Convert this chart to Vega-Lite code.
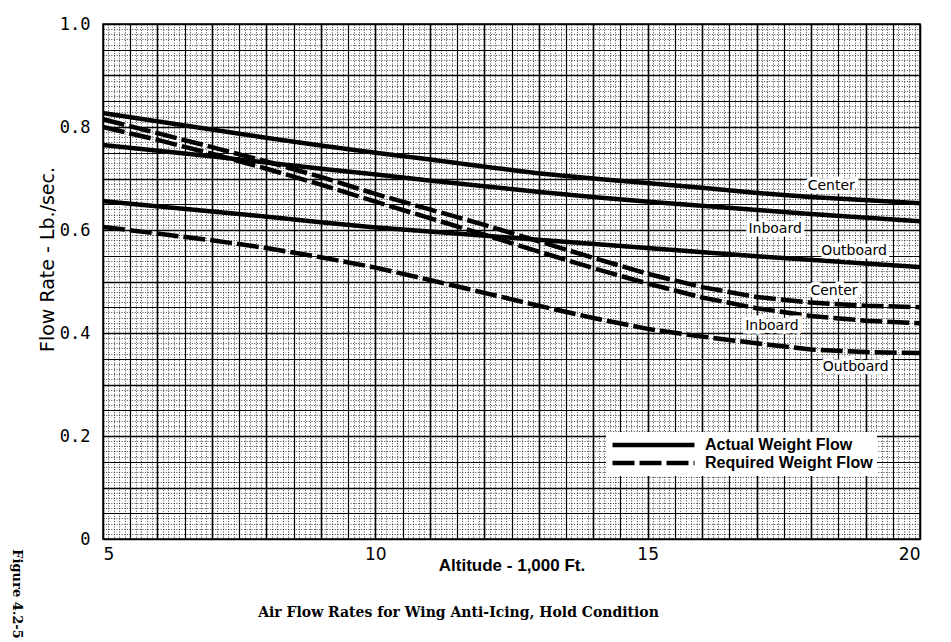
{
  "$schema": "https://vega.github.io/schema/vega-lite/v6.json",
  "background": "white",
  "padding": {"left": 10, "top": 14, "right": 5, "bottom": 5},
  "config": {
    "view": {"stroke": "black", "strokeWidth": 1.5},
    "title": {"color": "black"}
  },
  "title": {
    "text": "Figure 4.2-5",
    "orient": "left",
    "anchor": "start",
    "angle": 90,
    "align": "right",
    "dx": 18,
    "font": "DejaVu Serif",
    "fontWeight": "bold",
    "fontSize": 13,
    "color": "black",
    "offset": 1
  },
  "resolve": {"scale": {"strokeDash": "independent"}, "legend": {"strokeDash": "independent"}},
  "datasets": {
    "lines": [
      {"series": "Actual Weight Flow", "loc": "Center", "alt": 5, "flow": 0.827},
      {"series": "Actual Weight Flow", "loc": "Center", "alt": 6, "flow": 0.811},
      {"series": "Actual Weight Flow", "loc": "Center", "alt": 7, "flow": 0.795},
      {"series": "Actual Weight Flow", "loc": "Center", "alt": 8, "flow": 0.779},
      {"series": "Actual Weight Flow", "loc": "Center", "alt": 9, "flow": 0.764},
      {"series": "Actual Weight Flow", "loc": "Center", "alt": 10, "flow": 0.750},
      {"series": "Actual Weight Flow", "loc": "Center", "alt": 11, "flow": 0.737},
      {"series": "Actual Weight Flow", "loc": "Center", "alt": 12, "flow": 0.723},
      {"series": "Actual Weight Flow", "loc": "Center", "alt": 13, "flow": 0.710},
      {"series": "Actual Weight Flow", "loc": "Center", "alt": 14, "flow": 0.700},
      {"series": "Actual Weight Flow", "loc": "Center", "alt": 15, "flow": 0.691},
      {"series": "Actual Weight Flow", "loc": "Center", "alt": 16, "flow": 0.682},
      {"series": "Actual Weight Flow", "loc": "Center", "alt": 17, "flow": 0.672},
      {"series": "Actual Weight Flow", "loc": "Center", "alt": 18, "flow": 0.664},
      {"series": "Actual Weight Flow", "loc": "Center", "alt": 19, "flow": 0.658},
      {"series": "Actual Weight Flow", "loc": "Center", "alt": 20, "flow": 0.652},
      {"series": "Actual Weight Flow", "loc": "Inboard", "alt": 5, "flow": 0.765},
      {"series": "Actual Weight Flow", "loc": "Inboard", "alt": 6, "flow": 0.754},
      {"series": "Actual Weight Flow", "loc": "Inboard", "alt": 7, "flow": 0.743},
      {"series": "Actual Weight Flow", "loc": "Inboard", "alt": 8, "flow": 0.731},
      {"series": "Actual Weight Flow", "loc": "Inboard", "alt": 9, "flow": 0.719},
      {"series": "Actual Weight Flow", "loc": "Inboard", "alt": 10, "flow": 0.708},
      {"series": "Actual Weight Flow", "loc": "Inboard", "alt": 11, "flow": 0.696},
      {"series": "Actual Weight Flow", "loc": "Inboard", "alt": 12, "flow": 0.685},
      {"series": "Actual Weight Flow", "loc": "Inboard", "alt": 13, "flow": 0.674},
      {"series": "Actual Weight Flow", "loc": "Inboard", "alt": 14, "flow": 0.664},
      {"series": "Actual Weight Flow", "loc": "Inboard", "alt": 15, "flow": 0.655},
      {"series": "Actual Weight Flow", "loc": "Inboard", "alt": 16, "flow": 0.647},
      {"series": "Actual Weight Flow", "loc": "Inboard", "alt": 17, "flow": 0.639},
      {"series": "Actual Weight Flow", "loc": "Inboard", "alt": 18, "flow": 0.631},
      {"series": "Actual Weight Flow", "loc": "Inboard", "alt": 19, "flow": 0.624},
      {"series": "Actual Weight Flow", "loc": "Inboard", "alt": 20, "flow": 0.617},
      {"series": "Actual Weight Flow", "loc": "Outboard", "alt": 5, "flow": 0.656},
      {"series": "Actual Weight Flow", "loc": "Outboard", "alt": 6, "flow": 0.646},
      {"series": "Actual Weight Flow", "loc": "Outboard", "alt": 7, "flow": 0.636},
      {"series": "Actual Weight Flow", "loc": "Outboard", "alt": 8, "flow": 0.626},
      {"series": "Actual Weight Flow", "loc": "Outboard", "alt": 9, "flow": 0.615},
      {"series": "Actual Weight Flow", "loc": "Outboard", "alt": 10, "flow": 0.605},
      {"series": "Actual Weight Flow", "loc": "Outboard", "alt": 11, "flow": 0.597},
      {"series": "Actual Weight Flow", "loc": "Outboard", "alt": 12, "flow": 0.589},
      {"series": "Actual Weight Flow", "loc": "Outboard", "alt": 13, "flow": 0.581},
      {"series": "Actual Weight Flow", "loc": "Outboard", "alt": 14, "flow": 0.573},
      {"series": "Actual Weight Flow", "loc": "Outboard", "alt": 15, "flow": 0.565},
      {"series": "Actual Weight Flow", "loc": "Outboard", "alt": 16, "flow": 0.557},
      {"series": "Actual Weight Flow", "loc": "Outboard", "alt": 17, "flow": 0.549},
      {"series": "Actual Weight Flow", "loc": "Outboard", "alt": 18, "flow": 0.542},
      {"series": "Actual Weight Flow", "loc": "Outboard", "alt": 19, "flow": 0.535},
      {"series": "Actual Weight Flow", "loc": "Outboard", "alt": 20, "flow": 0.528},
      {"series": "Required Weight Flow", "loc": "Center", "alt": 5, "flow": 0.815},
      {"series": "Required Weight Flow", "loc": "Center", "alt": 6, "flow": 0.788},
      {"series": "Required Weight Flow", "loc": "Center", "alt": 7, "flow": 0.761},
      {"series": "Required Weight Flow", "loc": "Center", "alt": 8, "flow": 0.733},
      {"series": "Required Weight Flow", "loc": "Center", "alt": 9, "flow": 0.703},
      {"series": "Required Weight Flow", "loc": "Center", "alt": 10, "flow": 0.670},
      {"series": "Required Weight Flow", "loc": "Center", "alt": 11, "flow": 0.640},
      {"series": "Required Weight Flow", "loc": "Center", "alt": 12, "flow": 0.610},
      {"series": "Required Weight Flow", "loc": "Center", "alt": 13, "flow": 0.578},
      {"series": "Required Weight Flow", "loc": "Center", "alt": 14, "flow": 0.546},
      {"series": "Required Weight Flow", "loc": "Center", "alt": 15, "flow": 0.515},
      {"series": "Required Weight Flow", "loc": "Center", "alt": 16, "flow": 0.489},
      {"series": "Required Weight Flow", "loc": "Center", "alt": 17, "flow": 0.470},
      {"series": "Required Weight Flow", "loc": "Center", "alt": 18, "flow": 0.459},
      {"series": "Required Weight Flow", "loc": "Center", "alt": 19, "flow": 0.453},
      {"series": "Required Weight Flow", "loc": "Center", "alt": 20, "flow": 0.450},
      {"series": "Required Weight Flow", "loc": "Inboard", "alt": 5, "flow": 0.800},
      {"series": "Required Weight Flow", "loc": "Inboard", "alt": 6, "flow": 0.775},
      {"series": "Required Weight Flow", "loc": "Inboard", "alt": 7, "flow": 0.748},
      {"series": "Required Weight Flow", "loc": "Inboard", "alt": 8, "flow": 0.719},
      {"series": "Required Weight Flow", "loc": "Inboard", "alt": 9, "flow": 0.688},
      {"series": "Required Weight Flow", "loc": "Inboard", "alt": 10, "flow": 0.655},
      {"series": "Required Weight Flow", "loc": "Inboard", "alt": 11, "flow": 0.623},
      {"series": "Required Weight Flow", "loc": "Inboard", "alt": 12, "flow": 0.591},
      {"series": "Required Weight Flow", "loc": "Inboard", "alt": 13, "flow": 0.558},
      {"series": "Required Weight Flow", "loc": "Inboard", "alt": 14, "flow": 0.526},
      {"series": "Required Weight Flow", "loc": "Inboard", "alt": 15, "flow": 0.496},
      {"series": "Required Weight Flow", "loc": "Inboard", "alt": 16, "flow": 0.469},
      {"series": "Required Weight Flow", "loc": "Inboard", "alt": 17, "flow": 0.448},
      {"series": "Required Weight Flow", "loc": "Inboard", "alt": 18, "flow": 0.433},
      {"series": "Required Weight Flow", "loc": "Inboard", "alt": 19, "flow": 0.424},
      {"series": "Required Weight Flow", "loc": "Inboard", "alt": 20, "flow": 0.419},
      {"series": "Required Weight Flow", "loc": "Outboard", "alt": 5, "flow": 0.606},
      {"series": "Required Weight Flow", "loc": "Outboard", "alt": 6, "flow": 0.593},
      {"series": "Required Weight Flow", "loc": "Outboard", "alt": 7, "flow": 0.580},
      {"series": "Required Weight Flow", "loc": "Outboard", "alt": 8, "flow": 0.565},
      {"series": "Required Weight Flow", "loc": "Outboard", "alt": 9, "flow": 0.547},
      {"series": "Required Weight Flow", "loc": "Outboard", "alt": 10, "flow": 0.527},
      {"series": "Required Weight Flow", "loc": "Outboard", "alt": 11, "flow": 0.503},
      {"series": "Required Weight Flow", "loc": "Outboard", "alt": 12, "flow": 0.478},
      {"series": "Required Weight Flow", "loc": "Outboard", "alt": 13, "flow": 0.453},
      {"series": "Required Weight Flow", "loc": "Outboard", "alt": 14, "flow": 0.429},
      {"series": "Required Weight Flow", "loc": "Outboard", "alt": 15, "flow": 0.408},
      {"series": "Required Weight Flow", "loc": "Outboard", "alt": 16, "flow": 0.393},
      {"series": "Required Weight Flow", "loc": "Outboard", "alt": 17, "flow": 0.380},
      {"series": "Required Weight Flow", "loc": "Outboard", "alt": 18, "flow": 0.368},
      {"series": "Required Weight Flow", "loc": "Outboard", "alt": 19, "flow": 0.363},
      {"series": "Required Weight Flow", "loc": "Outboard", "alt": 20, "flow": 0.361}
    ],
    "labels": [
      {"alt": 18.37, "flow": 0.685, "label": "Center"},
      {"alt": 17.34, "flow": 0.602, "label": "Inboard"},
      {"alt": 18.79, "flow": 0.559, "label": "Outboard"},
      {"alt": 18.42, "flow": 0.482, "label": "Center"},
      {"alt": 17.28, "flow": 0.414, "label": "Inboard"},
      {"alt": 18.82, "flow": 0.334, "label": "Outboard"}
    ]
  },
  "vconcat": [
    {
      "width": 817,
      "height": 515,
      "title": {
        "text": "Air Flow Rates for Wing Anti-Icing, Hold Condition",
        "orient": "bottom",
        "anchor": "middle",
        "dx": -53,
        "offset": 33,
        "font": "DejaVu Serif",
        "fontWeight": "bold",
        "fontSize": 14,
        "color": "black"
      },
      "encoding": {
        "x": {
          "field": "alt",
          "type": "quantitative",
          "scale": {"domain": [5, 20], "nice": false, "zero": false},
          "axis": {
            "title": "Altitude - 1,000 Ft.",
            "tickCount": 150,
            "ticks": false,
            "domain": false,
            "labelOverlap": false,
            "labelExpr": "datum.value % 5 === 0 ? format(datum.value, 'd') : ''",
            "labelFont": "DejaVu Sans",
            "labelFontSize": 17,
            "labelColor": "black",
            "labelPadding": 7,
            "labelDx": 4,
            "titleFont": "Liberation Sans",
            "titleFontWeight": "bold",
            "titleFontSize": 17,
            "titleColor": "black",
            "titleBaseline": "top",
            "titleY": 18,
            "grid": true,
            "gridColor": "black",
            "gridWidth": {"condition": [{"test": "abs(datum.value - round(datum.value)) < 0.001", "value": 1.6}, {"test": "abs(datum.value*2 - round(datum.value*2)) < 0.001", "value": 1.2}], "value": 0.9},
            "gridDash": {"condition": {"test": "abs(datum.value*2 - round(datum.value*2)) < 0.001", "value": []}, "value": [1, 1.6]},
            "gridOpacity": {"condition": {"test": "abs(datum.value*2 - round(datum.value*2)) < 0.001", "value": 1}, "value": 0.8}
          }
        },
        "y": {
          "field": "flow",
          "type": "quantitative",
          "scale": {"domain": [0, 1], "nice": false},
          "axis": {
            "title": "Flow Rate - Lb./sec.",
            "tickCount": 100,
            "ticks": false,
            "domain": false,
            "labelOverlap": false,
            "labelExpr": "abs(datum.value*5 - round(datum.value*5)) < 0.000001 ? (datum.value === 0 ? '0' : format(datum.value, '.1f')) : ''",
            "labelFont": "DejaVu Sans Mono",
            "labelFontSize": 17,
            "labelColor": "black",
            "labelPadding": 13,
            "titleFont": "DejaVu Sans",
            "titleFontWeight": "normal",
            "titleFontSize": 19,
            "titleColor": "black",
            "titleBaseline": "middle",
            "titleX": -56,
            "titleY": 235,
            "grid": true,
            "gridColor": "black",
            "gridWidth": {"condition": [{"test": "abs(datum.value*10 - round(datum.value*10)) < 0.0001", "value": 1.6}, {"test": "abs(datum.value*20 - round(datum.value*20)) < 0.0001", "value": 1.2}], "value": 0.9},
            "gridDash": {"condition": {"test": "abs(datum.value*20 - round(datum.value*20)) < 0.0001", "value": []}, "value": [1, 1.6]},
            "gridOpacity": {"condition": {"test": "abs(datum.value*20 - round(datum.value*20)) < 0.0001", "value": 1}, "value": 0.8}
          }
        }
      },
      "layer": [
        {
          "data": {"name": "lines"},
          "mark": {"type": "line", "color": "black", "strokeWidth": 4.5, "strokeCap": "butt"},
          "encoding": {
            "detail": {"field": "loc", "type": "nominal"},
            "strokeDash": {
              "field": "series",
              "type": "nominal",
              "scale": {"domain": ["Actual Weight Flow", "Required Weight Flow"], "range": [[1, 0], [22, 5]]},
              "legend": {
                "title": null,
                "orient": "none",
                "legendX": 503,
                "legendY": 408,
                "symbolType": "stroke",
                "symbolSize": 6724,
                "symbolStrokeWidth": 4.5,
                "symbolStrokeColor": "black",
                "symbolFillColor": "transparent",
                "clipHeight": 18,
                "rowPadding": 0,
                "labelFont": "Liberation Sans",
                "labelFontWeight": "bold",
                "labelFontSize": 16,
                "labelColor": "black",
                "labelOffset": 8,
                "labelLimit": 300,
                "padding": 4,
                "fillColor": "white"
              }
            }
          }
        },
        {
          "data": {"name": "labels"},
          "mark": {"type": "text", "font": "DejaVu Sans", "fontSize": 14, "align": "center", "baseline": "middle", "fill": "white", "stroke": "white", "strokeWidth": 7, "strokeJoin": "miter"},
          "encoding": {"text": {"field": "label", "type": "nominal"}}
        },
        {
          "data": {"name": "labels"},
          "mark": {"type": "text", "font": "DejaVu Sans", "fontSize": 14, "align": "center", "baseline": "middle", "color": "black"},
          "encoding": {"text": {"field": "label", "type": "nominal"}}
        }
      ]
    }
  ]
}
